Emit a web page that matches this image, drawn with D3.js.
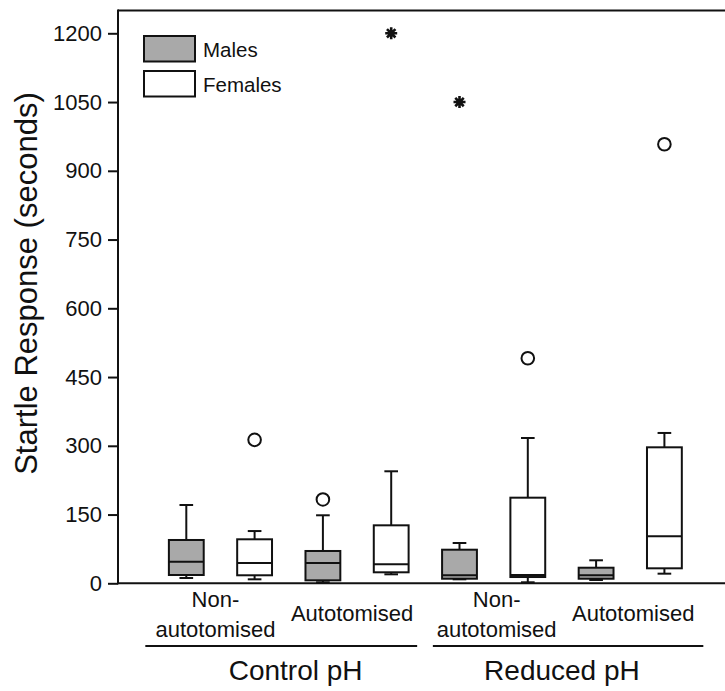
<!DOCTYPE html>
<html>
<head>
<meta charset="utf-8">
<script src="https://cdn.jsdelivr.net/npm/d3@7"></script>
<style>
  body { margin: 0; background: #fff; }
  text { font-family: "Liberation Sans", Arial, sans-serif; fill: #111; }
</style>
</head>
<body>
<div id="chart"></div>
<script>
// data (seconds)
const groups = ["Control pH", "Reduced pH"];
const treatments = ["Non-autotomised", "Autotomised"];
const sexes = ["Males", "Females"];

// one box per slot: control non-auto M/F, control auto M/F, reduced non-auto M/F, reduced auto M/F
const whiskerLow  = [11.6, 8.7, 2.2, 19.6, 8.7, 2.2, 7.2, 21];
const q1          = [18.1, 17.5, 6.5, 24, 10, 13.7, 10, 32.7];
const medians     = [47.1, 44.3, 44.3, 41.5, 17.5, 18.1, 17.5, 102.5];
const q3          = [94.5, 96, 70.5, 126.5, 73.3, 186.8, 34, 296.7];
const whiskerHigh = [170.8, 114, 148.4, 244.4, 87.9, 317, 50.2, 328];

const outlierBox   = [1, 2, 5, 7];
const outlierValue = [313, 183, 491, 958];
const extremeBox   = [3, 4];
const extremeValue = [1200, 1050];

const yTicks = [0, 150, 300, 450, 600, 750, 900, 1050, 1200];

const W = 725, H = 691;
const margin = {left: 118, bottom: 107.7};
const slot = 68.3;

const svg = d3.select("#chart").append("svg")
  .attr("width", W)
  .attr("height", H);

const x = d3.scaleLinear()
  .domain([0, 9])
  .range([margin.left, margin.left + 9 * slot]);

const y = d3.scaleLinear()
  .domain([0, 1200])
  .range([H - margin.bottom, 33.3]);

const boxW = 0.51;   // in slot units
const capW = 0.2;
const fills = ["#a9a9a9", "#ffffff"];

// frame
svg.append("line")
  .attr("x1", x(0)).attr("x2", W)
  .attr("y1", y(0)).attr("y2", y(0))
  .attr("stroke", "#111").attr("stroke-width", 2);
svg.append("line")
  .attr("x1", x(0)).attr("x2", W)
  .attr("y1", y(1250)).attr("y2", y(1250))
  .attr("stroke", "#111").attr("stroke-width", 2);
svg.append("line")
  .attr("x1", x(0)).attr("x2", x(0))
  .attr("y1", y(0) + 1).attr("y2", y(1250) - 1)
  .attr("stroke", "#111").attr("stroke-width", 2);

// y axis
const yAxis = d3.axisLeft(y)
  .tickValues(yTicks)
  .tickFormat(d3.format("d"))
  .tickSize(10)
  .tickPadding(6);
const gy = svg.append("g")
  .attr("transform", `translate(${x(0)},0)`)
  .call(yAxis);
gy.select(".domain").remove();
gy.selectAll(".tick line").attr("stroke", "#111").attr("stroke-width", 2);
gy.selectAll(".tick text")
  .attr("font-size", 22)
  .attr("font-family", "Liberation Sans, Arial, sans-serif")
  .attr("fill", "#111");

svg.append("text")
  .attr("transform", `translate(37,${y(654)}) rotate(-90)`)
  .attr("text-anchor", "middle")
  .attr("font-size", 31)
  .text("Startle Response (seconds)");

// boxes
const boxes = d3.range(8).map(i => ({
  i: i, lo: whiskerLow[i], q1: q1[i], med: medians[i], q3: q3[i], hi: whiskerHigh[i]
}));

const bg = svg.selectAll(".box").data(boxes).join("g").attr("class", "box");

bg.append("line")
  .attr("x1", d => x(d.i + 1)).attr("x2", d => x(d.i + 1))
  .attr("y1", d => y(d.hi)).attr("y2", d => y(d.lo))
  .attr("stroke", "#111").attr("stroke-width", 2);
bg.append("line")
  .attr("x1", d => x(d.i + 1 - capW / 2)).attr("x2", d => x(d.i + 1 + capW / 2))
  .attr("y1", d => y(d.hi)).attr("y2", d => y(d.hi))
  .attr("stroke", "#111").attr("stroke-width", 2);
bg.append("line")
  .attr("x1", d => x(d.i + 1 - capW / 2)).attr("x2", d => x(d.i + 1 + capW / 2))
  .attr("y1", d => y(d.lo)).attr("y2", d => y(d.lo))
  .attr("stroke", "#111").attr("stroke-width", 2);
bg.append("rect")
  .attr("x", d => x(d.i + 1 - boxW / 2))
  .attr("width", x(boxW) - x(0))
  .attr("y", d => y(d.q3))
  .attr("height", d => y(d.q1) - y(d.q3))
  .attr("fill", d => fills[d.i % 2])
  .attr("stroke", "#111").attr("stroke-width", 2);
bg.append("line")
  .attr("x1", d => x(d.i + 1 - boxW / 2)).attr("x2", d => x(d.i + 1 + boxW / 2))
  .attr("y1", d => y(d.med)).attr("y2", d => y(d.med))
  .attr("stroke", "#111").attr("stroke-width", 2);

// outliers
svg.selectAll(".outlier").data(outlierBox).join("circle")
  .attr("class", "outlier")
  .attr("cx", d => x(d + 1))
  .attr("cy", (d, k) => y(outlierValue[k]))
  .attr("r", 6.3)
  .attr("fill", "#fff")
  .attr("stroke", "#111").attr("stroke-width", 2);

const starR = 6;
const starPath = d3.range(4).map(k => {
  const a = k * Math.PI / 4;
  const dx = starR * Math.cos(a), dy = starR * Math.sin(a);
  return `M${-dx},${-dy}L${dx},${dy}`;
}).join("");
svg.selectAll(".extreme").data(extremeBox).join("path")
  .attr("class", "extreme")
  .attr("transform", (d, k) => `translate(${x(d + 1)},${y(extremeValue[k])})`)
  .attr("d", starPath)
  .attr("stroke", "#111").attr("stroke-width", 2.6);

// legend
const legend = svg.append("g").attr("transform", "translate(144,36)");
sexes.forEach((s, k) => {
  legend.append("rect")
    .attr("x", 0).attr("y", k * 35)
    .attr("width", 51).attr("height", 25.5)
    .attr("fill", fills[k])
    .attr("stroke", "#111").attr("stroke-width", 2);
  legend.append("text")
    .attr("x", 59).attr("y", k * 35 + 21)
    .attr("font-size", 20.5)
    .text(s);
});

// category labels
const labY = y(0);
groups.forEach((g, gi) => {
  treatments.forEach((t, ti) => {
    const cx = x(gi * 4 + ti * 2 + 1.5) + (gi === 0 ? -5 : 3);
    if (t === "Non-autotomised") {
      const tx = svg.append("text")
        .attr("text-anchor", "middle")
        .attr("font-size", 22);
      tx.append("tspan").attr("x", cx).attr("y", labY + 23.4).text("Non-");
      tx.append("tspan").attr("x", cx).attr("y", labY + 53.4).text("autotomised");
    } else {
      svg.append("text")
        .attr("x", cx).attr("y", labY + 37.4)
        .attr("text-anchor", "middle")
        .attr("font-size", 22)
        .text(t);
    }
  });
  const l0 = gi === 0 ? 0.4 : 4.61;
  const l1 = gi === 0 ? 4.38 : 8.57;
  svg.append("line")
    .attr("x1", x(l0)).attr("x2", x(l1))
    .attr("y1", labY + 62.7).attr("y2", labY + 62.7)
    .attr("stroke", "#111").attr("stroke-width", 2);
  svg.append("text")
    .attr("x", x(gi === 0 ? 2.6 : 6.5))
    .attr("y", labY + 96.7)
    .attr("text-anchor", "middle")
    .attr("font-size", 28)
    .text(g);
});
</script>
</body>
</html>
